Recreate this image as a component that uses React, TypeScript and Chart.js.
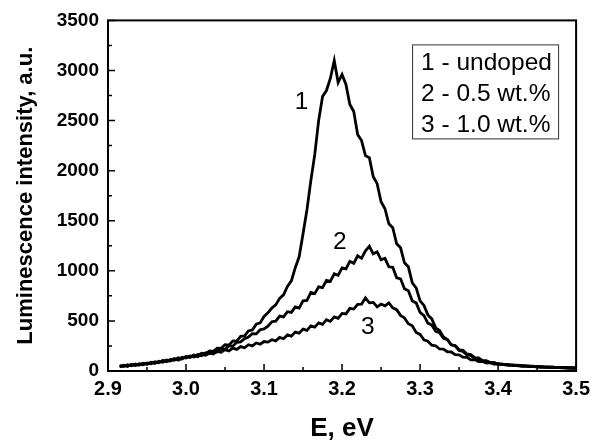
import React, { useEffect, useRef } from "react";
import { Chart, registerables } from "chart.js";

Chart.register(...registerables);

// Photon energy, eV
const energies = [
  2.915, 2.92, 2.925, 2.93, 2.935, 2.94, 2.945, 2.95, 2.955, 2.96, 2.965, 2.97, 2.975, 2.98, 2.985, 2.99, 2.995, 3.0,
  3.005, 3.01, 3.015, 3.02, 3.025, 3.03, 3.035, 3.04, 3.045, 3.05, 3.055, 3.06, 3.065, 3.07, 3.075, 3.08, 3.085, 3.09, 3.095, 3.1,
  3.105, 3.11, 3.115, 3.12, 3.125, 3.13, 3.135, 3.14, 3.145, 3.15, 3.155, 3.16, 3.165, 3.17, 3.175, 3.18, 3.185, 3.19, 3.195, 3.2,
  3.205, 3.21, 3.215, 3.22, 3.225, 3.23, 3.235, 3.24, 3.245, 3.25, 3.255, 3.26, 3.265, 3.27, 3.275, 3.28, 3.285, 3.29, 3.295, 3.3,
  3.305, 3.31, 3.315, 3.32, 3.325, 3.33, 3.335, 3.34, 3.345, 3.35, 3.355, 3.36, 3.365, 3.37, 3.375, 3.38, 3.385, 3.39, 3.395, 3.4,
  3.405, 3.41, 3.415, 3.42, 3.425, 3.43, 3.435, 3.44, 3.445, 3.45, 3.455, 3.46, 3.465, 3.47, 3.475, 3.48, 3.485, 3.49, 3.495, 3.5,
];

// 1 - undoped
const undoped = [
  40, 58, 48, 66, 55, 72, 63, 80, 72, 92, 82, 104, 95, 115, 108, 132, 120, 146,
  138, 160, 150, 178, 172, 200, 195, 228, 226, 262, 258, 300, 298, 345, 350, 400, 410, 468, 480, 545,
  580, 628, 660, 725, 760, 845, 900, 1030, 1140, 1370, 1610, 1900, 2160, 2500, 2740, 2800, 2920, 3100, 2880, 2960,
  2860, 2660, 2590, 2360, 2300, 2150, 2130, 1940, 1870, 1690, 1620, 1470, 1430, 1270, 1230, 1080, 1040, 880, 830, 700,
  655, 560, 520, 430, 405, 340, 315, 262, 250, 205, 196, 160, 156, 126, 124, 100, 100, 82, 84, 68,
  66, 64, 58, 60, 52, 54, 48, 50, 44, 46, 40, 42, 36, 40, 34, 37, 32, 35, 30, 32,
];

// 2 - 0.5 wt.%
const doped05 = [
  52, 44, 62, 52, 70, 60, 78, 68, 88, 78, 98, 88, 110, 100, 124, 112, 138, 130,
  150, 140, 165, 152, 182, 172, 200, 190, 226, 214, 252, 248, 286, 290, 322, 338, 372, 370, 412, 420,
  448, 492, 498, 548, 540, 592, 585, 640, 628, 700, 705, 785, 772, 840, 832, 905, 895, 970, 955, 1030,
  1020, 1095, 1075, 1150, 1125, 1200, 1245, 1170, 1190, 1110, 1125, 1040, 1035, 930, 920, 820, 800, 700, 680, 585,
  552, 478, 458, 395, 382, 325, 312, 262, 255, 212, 206, 170, 164, 134, 130, 104, 102, 84, 84, 70,
  70, 60, 62, 54, 56, 48, 50, 44, 46, 40, 42, 37, 39, 34, 36, 31, 34, 30, 32, 29,
];

// 3 - 1.0 wt.%
const doped10 = [
  48, 56, 46, 64, 58, 62, 74, 70, 84, 80, 86, 100, 96, 104, 118, 110, 126, 140,
  136, 152, 142, 166, 158, 180, 170, 196, 188, 214, 200, 228, 216, 244, 232, 262, 250, 280, 268, 294,
  288, 312, 300, 335, 322, 360, 348, 388, 378, 418, 405, 450, 438, 480, 466, 512, 495, 540, 525, 575,
  570, 625, 618, 665, 668, 730, 680, 685, 640, 668, 650, 680, 630, 612, 555, 530, 472, 452, 385, 365,
  312, 298, 258, 252, 220, 218, 192, 190, 164, 162, 138, 136, 112, 114, 94, 96, 80, 84, 70, 72,
  64, 66, 60, 56, 58, 50, 52, 46, 48, 42, 44, 38, 40, 35, 37, 33, 35, 30, 32, 30,
];

const legendLines = ["1 - undoped", "2 - 0.5 wt.%", "3 - 1.0 wt.%"];
const curveLabels = ["1", "2", "3"];
const curveLabelE = [3.148, 3.197, 3.233];
const curveLabelI = [2680, 1290, 440];

const xMajor = [2.9, 3.0, 3.1, 3.2, 3.3, 3.4, 3.5];
const xMinor = [2.95, 3.05, 3.15, 3.25, 3.35, 3.45];
const yMajor = [0, 500, 1000, 1500, 2000, 2500, 3000, 3500];
const yMinor = [250, 750, 1250, 1750, 2250, 2750, 3250];

const FONT = "'Liberation Sans', Arial, sans-serif";

const decorPlugin = {
  id: "decor",
  afterDatasetsDraw(chart: any) {
    const { ctx, chartArea: a, scales } = chart;
    const xs = scales.x;
    const ys = scales.y;
    ctx.save();
    ctx.strokeStyle = "#000";
    ctx.lineWidth = 2;
    ctx.strokeRect(a.left, a.top, a.right - a.left, a.bottom - a.top);

    ctx.lineWidth = 1.5;
    ctx.beginPath();
    xMajor.forEach((v) => {
      const p = xs.getPixelForValue(v);
      ctx.moveTo(p, a.bottom);
      ctx.lineTo(p, a.bottom - 7);
    });
    xMinor.forEach((v) => {
      const p = xs.getPixelForValue(v);
      ctx.moveTo(p, a.bottom);
      ctx.lineTo(p, a.bottom - 4);
    });
    yMajor.forEach((v) => {
      const p = ys.getPixelForValue(v);
      ctx.moveTo(a.left, p);
      ctx.lineTo(a.left + 7, p);
    });
    yMinor.forEach((v) => {
      const p = ys.getPixelForValue(v);
      ctx.moveTo(a.left, p);
      ctx.lineTo(a.left + 4, p);
    });
    ctx.stroke();

    // curve labels
    ctx.fillStyle = "#000";
    ctx.font = `24.5px ${FONT}`;
    ctx.textAlign = "center";
    ctx.textBaseline = "middle";
    curveLabels.forEach((t, i) => {
      ctx.fillText(t, xs.getPixelForValue(curveLabelE[i]), ys.getPixelForValue(curveLabelI[i]));
    });

    // legend box
    const bw = 146;
    const bh = 94;
    const bx = a.right - 18 - bw;
    const by = a.top + 24;
    ctx.lineWidth = 1;
    ctx.strokeStyle = "#333";
    ctx.strokeRect(bx + 0.5, by + 0.5, bw, bh);
    ctx.textAlign = "left";
    legendLines.forEach((t, i) => {
      ctx.fillText(t, bx + 9, by + 19 + i * 31);
    });
    ctx.restore();
  },
};

export default function App() {
  const ref = useRef<HTMLCanvasElement | null>(null);
  useEffect(() => {
    const canvas = ref.current;
    if (!canvas) return;
    const mk = (vals: number[]) => energies.map((e, i) => ({ x: e, y: vals[i] }));
    const line = {
      borderColor: "#000",
      borderWidth: 2.8,
      pointRadius: 0,
      fill: false,
      tension: 0,
    };
    const chart = new Chart(canvas, {
      type: "line",
      data: {
        datasets: [
          { label: legendLines[0], data: mk(undoped), ...line },
          { label: legendLines[1], data: mk(doped05), ...line },
          { label: legendLines[2], data: mk(doped10), ...line },
        ],
      },
      options: {
        animation: false,
        responsive: false,
        maintainAspectRatio: false,
        layout: { padding: { left: 0, right: 15, top: 20, bottom: 0 } },
        plugins: { legend: { display: false }, tooltip: { enabled: false } },
        scales: {
          x: {
            type: "linear",
            min: 2.9,
            max: 3.5,
            grid: { display: false, drawTicks: false },
            border: { display: false },
            ticks: {
              stepSize: 0.1,
              color: "#000",
              padding: 6,
              font: { family: FONT, size: 20, weight: "bold" },
              callback: (v: any) => Number(v).toFixed(1),
            },
            title: {
              display: true,
              text: "E, eV",
              color: "#000",
              font: { family: FONT, size: 26, weight: "bold" },
              padding: { top: 0, bottom: 0 },
            },
            afterFit: (s: any) => {
              s.height = 73;
            },
          },
          y: {
            min: 0,
            max: 3500,
            grid: { display: false, drawTicks: false },
            border: { display: false },
            ticks: {
              stepSize: 500,
              color: "#000",
              padding: 9,
              font: { family: FONT, size: 19, weight: "bold" },
              callback: (v: any) => String(Math.round(Number(v))),
            },
            title: {
              display: true,
              text: "Luminescence intensity, a.u.",
              color: "#000",
              font: { family: FONT, size: 22, weight: "bold" },
              padding: { top: 13, bottom: 0 },
            },
            afterFit: (s: any) => {
              s.width = 108;
            },
          },
        },
      },
      plugins: [decorPlugin],
    });
    return () => chart.destroy();
  }, []);
  return (
    <div style={{ position: "fixed", left: 0, top: 0, width: 596, height: 444, background: "#fff" }}>
      <canvas ref={ref} width={596} height={444} style={{ display: "block" }} />
    </div>
  );
}
